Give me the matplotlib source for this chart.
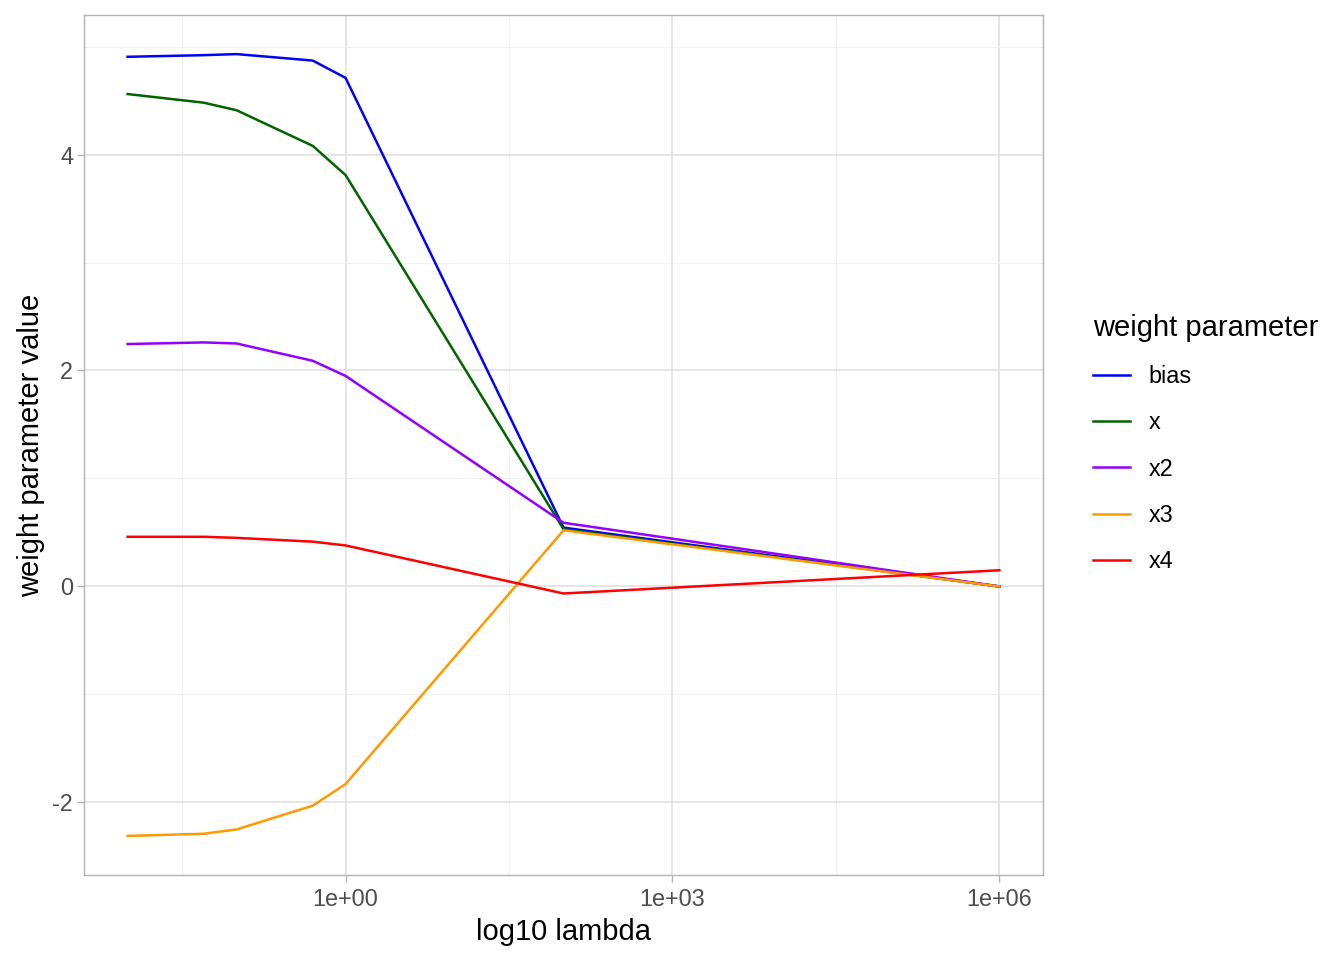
import numpy as np
import matplotlib.pyplot as plt
from matplotlib.lines import Line2D

plt.rcParams['font.family'] = ['Liberation Sans', 'DejaVu Sans']

# lambda values
lambdas = [0.01, 0.05, 0.1, 0.5, 1, 100, 1e6]

bias = [4.905, 4.92, 4.93, 4.87, 4.71, 0.545, 0.0]
w_x = [4.56, 4.48, 4.41, 4.08, 3.81, 0.53, 0.0]
w_x2 = [2.245, 2.26, 2.25, 2.09, 1.95, 0.59, 0.0]
w_x3 = [-2.31, -2.29, -2.25, -2.03, -1.83, 0.52, 0.0]
w_x4 = [0.46, 0.46, 0.45, 0.415, 0.38, -0.065, 0.15]

names = ['bias', 'x', 'x2', 'x3', 'x4']
colors = ['#0000FF', '#006400', '#9400FF', '#FF9900', '#FF0000']
series = [bias, w_x, w_x2, w_x3, w_x4]

fig = plt.figure(figsize=(13.44, 9.6), dpi=100)
ax = fig.add_axes([84/1344, 1 - 875/960, (1043-84)/1344, (875-15)/960])

for vals, c in zip(series, colors):
    ax.plot(lambdas, vals, color=c, linewidth=1.8, zorder=3)

ax.set_xscale('log')
lo, hi = np.log10(lambdas[0]), np.log10(lambdas[-1])
pad = (hi - lo) * 0.05
ax.set_xlim(10 ** (lo - pad), 10 ** (hi + pad))
allv = np.concatenate([np.array(s) for s in series])
ypad = (allv.max() - allv.min()) * 0.05
ax.set_ylim(allv.min() - ypad, allv.max() + ypad)

ax.set_xticks([1, 1e3, 1e6])
ax.set_xticklabels(['1e+00', '1e+03', '1e+06'])
ax.set_xticks([10 ** -1.5, 10 ** 1.5, 10 ** 4.5], minor=True)
ax.set_xticklabels([], minor=True)
ax.set_yticks([-2, 0, 2, 4])
ax.set_yticklabels(['-2', '0', '2', '4'])
ax.set_yticks([-1, 1, 3, 5], minor=True)

ax.grid(which='major', color='#DEDEDE', linewidth=1.1, zorder=0)
ax.grid(which='minor', color='#EFEFEF', linewidth=0.6, zorder=0)
ax.set_axisbelow(True)
for s in ax.spines.values():
    s.set_color('#B3B3B3')
    s.set_linewidth(1.0)
ax.tick_params(which='major', color='#B3B3B3', length=5, width=1,
               labelsize=16.8, labelcolor='#4D4D4D', pad=3)
ax.tick_params(axis='x', which='major', pad=4.5)
ax.tick_params(which='minor', length=0)

ax.set_xlabel('log10 lambda', fontsize=21, labelpad=5)
ax.set_ylabel('weight parameter value', fontsize=21, labelpad=5)

handles = [Line2D([], [], color=c, linewidth=1.8) for c in colors]
leg = fig.legend(handles, names, title='weight parameter', loc='upper left',
                 bbox_to_anchor=(1081/1344, 1 - 302/960), frameon=False,
                 fontsize=16.8, title_fontsize=21, handlelength=1.6,
                 labelspacing=1.0, handletextpad=0.8, borderpad=0)
leg._legend_box.align = 'left'

fig.savefig('out.png', dpi=100)
